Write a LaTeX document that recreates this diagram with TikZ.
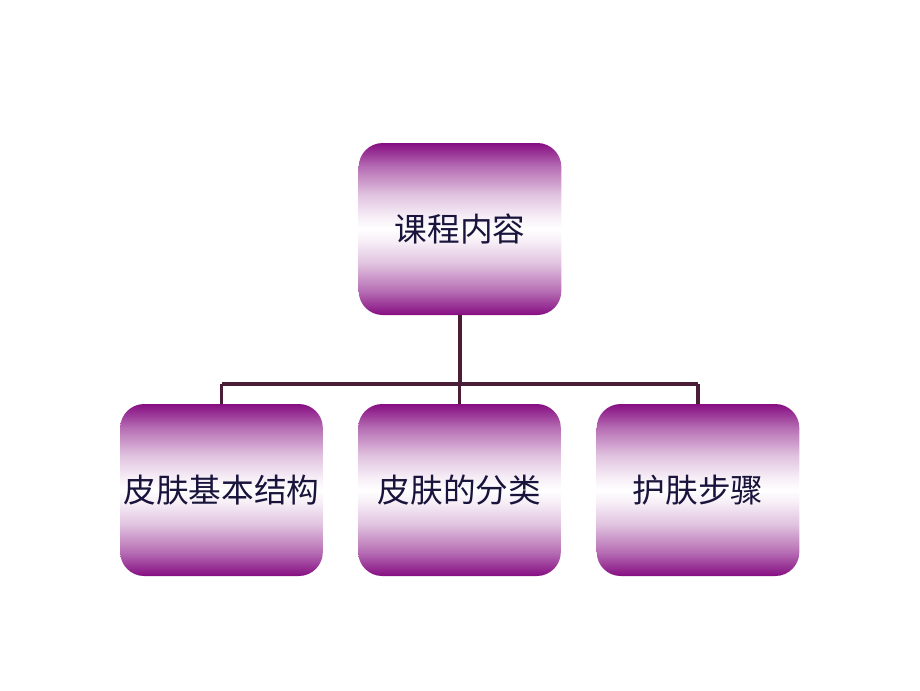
\documentclass[tikz,border=0pt]{standalone}
\usepackage{fontspec}
\newfontfamily\cjk{Noto Sans CJK SC}
\definecolor{boxpurple}{RGB}{134,14,130}
\definecolor{linecol}{RGB}{75,30,55}
\definecolor{textcol}{RGB}{25,20,60}
\pgfdeclareverticalshading{boxshade}{100bp}{
  color(0bp)=(boxpurple); color(25bp)=(boxpurple); color(32bp)=(boxpurple!60!white);
  color(40bp)=(boxpurple!25!white); color(46bp)=(boxpurple!8!white); color(50bp)=(white);
  color(54bp)=(boxpurple!8!white); color(60bp)=(boxpurple!25!white);
  color(68bp)=(boxpurple!60!white); color(75bp)=(boxpurple); color(100bp)=(boxpurple)}
\tikzset{
  topic/.style={rounded corners=18pt, minimum width=152pt, minimum height=129pt,
    shading=boxshade, font=\cjk\fontsize{24.5}{28}\selectfont, text=textcol, inner sep=0pt},
  link/.style={draw=linecol, line width=2.3pt}
}
\begin{document}
\begin{tikzpicture}[x=0.75pt, y=-0.75pt]
            \useasboundingbox (0,0) rectangle (920,690);

            % Cuadros
            \node[topic] (course) at (460,229) {课程内容};
            \node[topic] (structure) at (221.5,490) {皮肤基本结构};
            \node[topic] (types) at (459.5,490) {皮肤的分类};
            \node[topic] (steps) at (698,490) {护肤步骤};

            % Conectores
            \coordinate (bus) at (460,384);
            \draw[link] (course.south) -- (bus);
            \draw[link] (bus -| structure.north) -- (bus -| steps.north);
            \draw[link] (bus -| structure.north) -- (structure.north);
            \draw[link] (bus -| types.north) -- (types.north);
            \draw[link] (bus -| steps.north) -- (steps.north);
        \end{tikzpicture}
\end{document}
